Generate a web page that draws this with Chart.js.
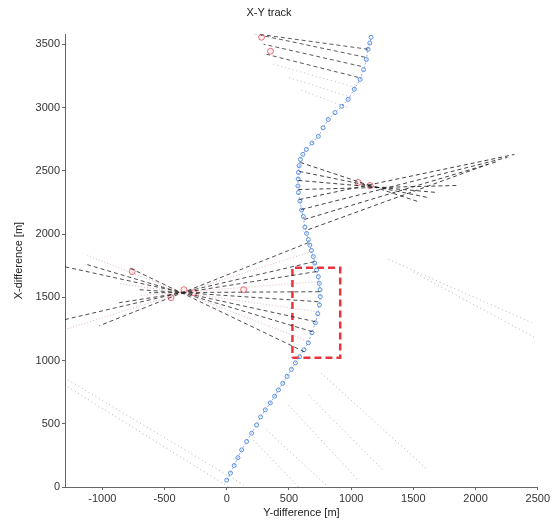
<!DOCTYPE html>
<html>
<head>
<meta charset="utf-8">
<script src="https://cdn.jsdelivr.net/npm/chart.js@4.4.1/dist/chart.umd.min.js"></script>
<style>
  html, body { margin: 0; padding: 0; background: #fff; }
  #wrap { width: 552px; height: 524px; }
</style>
</head>
<body>
<div id="wrap"><canvas id="xyChart" width="552" height="524"></canvas></div>
<script>
// ticks
const xTicks = [-1000, -500, 0, 500, 1000, 1500, 2000, 2500];
const yTicks = [0, 500, 1000, 1500, 2000, 2500, 3000, 3500];

// ship track (Y-difference, X-difference) in metres
const trackX = [0, 30, 60, 90, 120, 160, 200, 240, 272, 310, 350, 385, 416, 450, 485, 520, 552, 585, 620, 656, 685, 712, 732, 745, 752, 750, 744, 736, 722, 708, 696, 680, 668, 656, 642, 628, 616, 602, 588, 576, 572, 574, 576, 582, 592, 612, 640, 685, 736, 775, 816, 870, 925, 976, 1025, 1072, 1100, 1122, 1136, 1150, 1160];
const trackY = [55, 110, 170, 232, 293, 360, 425, 490, 554, 610, 665, 718, 768, 820, 875, 930, 982, 1030, 1085, 1140, 1220, 1299, 1370, 1440, 1505, 1560, 1610, 1663, 1715, 1770, 1822, 1870, 1912, 1956, 2005, 2055, 2138, 2190, 2260, 2328, 2380, 2435, 2487, 2540, 2590, 2630, 2669, 2720, 2772, 2840, 2906, 2960, 3010, 3065, 3145, 3223, 3300, 3380, 3461, 3510, 3556];

// bearing lines, left fan: start on track -> end
const leftStart = [[656, 1932], [680, 1861], [704, 1782], [720, 1703], [736, 1624], [744, 1544], [736, 1465], [728, 1386], [712, 1307], [688, 1228], [664, 1148], [624, 1069]];
const leftEnd = [[-1024, 1275], [-1304, 1243], [-1304, 1323], [-864, 1457], [-704, 1513], [-624, 1536], [-704, 1560], [-864, 1608], [-1304, 1742], [-1120, 1758], [-1120, 1830], [-784, 1734]];

// bearing lines, upper right fan
const rightStart = [[592, 2566], [584, 2495], [576, 2424], [576, 2352], [584, 2273], [600, 2194], [624, 2115], [656, 2035]];
const rightEnd = [[1536, 2257], [1616, 2289], [1696, 2328], [1856, 2384], [2312, 2629], [2256, 2606], [2176, 2574], [2096, 2550]];

// bearing lines, top fan
const topStart = [[1136, 3461], [1112, 3398], [1080, 3326], [1056, 3239], [1032, 3160], [1000, 3081], [968, 3002]];
const topEnd = [[136, 3596], [272, 3572], [296, 3501], [320, 3421], [376, 3342], [496, 3239], [576, 3144]];

// faint lines in the lower part
const faintStart = [[-1304, 863], [-1304, 808], [216, 372], [320, 451], [496, 649], [656, 729], [760, 900], [1300, 1800], [1500, 1700]];
const faintEnd = [[136, 16], [16, 0], [576, 0], [816, 0], [1056, 55], [1256, 135], [1600, 150], [2450, 1300], [2480, 1180]];

// target estimates (red ellipses)
const targetX = [-760, -344, -264, -448, 136, 1056, 1152, 280, 352];
const targetY = [1703, 1560, 1536, 1497, 1560, 2408, 2384, 3556, 3445];

// dashed red box
const boxX = [528, 912, 912, 528, 528];
const boxY = [1022, 1022, 1734, 1734, 1022];

function toPoints(xs, ys) {
    return xs.map((x, i) => ({ x: x, y: ys[i] }));
}

function segment(a, b, color, dash, width) {
    return {
        data: [{ x: a[0], y: a[1] }, { x: b[0], y: b[1] }],
        showLine: true,
        borderColor: color,
        borderWidth: width,
        borderDash: dash,
        pointRadius: 0,
        fill: false
    };
}

const datasets = [];

// faint lines first, so they sit underneath
faintStart.forEach((s, i) => {
    datasets.push(segment(s, faintEnd[i], 'rgba(90,90,90,0.45)', [1, 3], 1));
});

leftStart.forEach((s, i) => {
    const dark = i % 3 !== 1;
    datasets.push(segment(s, leftEnd[i], dark ? 'rgba(20,20,20,0.75)' : 'rgba(200,140,140,0.6)', dark ? [4, 3] : [1, 2], 1));
});

rightStart.forEach((s, i) => {
    datasets.push(segment(s, rightEnd[i], 'rgba(20,20,20,0.8)', [4, 3], 1));
});

topStart.forEach((s, i) => {
    const dark = i < 4;
    datasets.push(segment(s, topEnd[i], dark ? 'rgba(20,20,20,0.7)' : 'rgba(150,120,120,0.5)', dark ? [4, 3] : [1, 3], 1));
});

// track
datasets.push({
    data: toPoints(trackX, trackY),
    showLine: true,
    borderColor: 'rgba(90,142,224,0.7)',
    borderWidth: 1,
    borderDash: [2, 2],
    pointRadius: 2,
    pointBorderColor: '#5a8ee0',
    pointBackgroundColor: 'rgba(255,255,255,0)',
    pointBorderWidth: 1
});

// targets
datasets.push({
    data: toPoints(targetX, targetY),
    showLine: false,
    pointRadius: 3,
    pointStyle: 'circle',
    pointBorderColor: 'rgba(225,70,90,0.75)',
    pointBackgroundColor: 'rgba(240,160,170,0.2)',
    pointBorderWidth: 1
});

// box
datasets.push({
    data: toPoints(boxX, boxY),
    showLine: true,
    borderColor: '#e8343b',
    borderWidth: 2.5,
    borderDash: [7, 4],
    pointRadius: 0,
    fill: false
});

const tickFont = { family: 'Liberation Sans', size: 11 };

new Chart(document.getElementById('xyChart').getContext('2d'), {
    type: 'scatter',
    data: { datasets: datasets },
    options: {
        responsive: false,
        animation: false,
        layout: { padding: { right: 14, left: 0, top: 0, bottom: 0 } },
        plugins: {
            legend: { display: false },
            tooltip: { enabled: false },
            title: {
                display: true,
                text: 'X-Y track',
                color: '#222',
                font: { family: 'Liberation Sans', size: 11, weight: 'normal' },
                padding: { top: 6, bottom: 15 }
            }
        },
        scales: {
            x: {
                type: 'linear',
                min: -1300,
                max: 2500,
                afterBuildTicks: function (scale) {
                    scale.ticks = xTicks.map(v => ({ value: v }));
                },
                afterFit: function (scale) {
                    scale.height = 37;
                },
                grid: { display: true, drawOnChartArea: false, tickLength: 3, color: '#666' },
                border: { color: '#666', width: 1, dash: [2, 1] },
                ticks: { color: '#333', font: tickFont, maxRotation: 0, padding: 2, callback: v => String(v) },
                title: {
                    display: true,
                    text: 'Y-difference [m]',
                    color: '#222',
                    font: { family: 'Liberation Sans', size: 11 },
                    padding: { top: 0, bottom: 4 }
                }
            },
            y: {
                type: 'linear',
                min: 0,
                max: 3580,
                afterBuildTicks: function (scale) {
                    scale.ticks = yTicks.map(v => ({ value: v }));
                },
                afterFit: function (scale) {
                    scale.width = 65;
                },
                grid: { display: true, drawOnChartArea: false, tickLength: 3, color: '#666' },
                border: { color: '#666', width: 1, dash: [2, 1] },
                ticks: { color: '#333', font: tickFont, padding: 2, callback: v => String(v) },
                title: {
                    display: true,
                    text: 'X-difference [m]',
                    color: '#222',
                    font: { family: 'Liberation Sans', size: 11 },
                    padding: { top: 12, bottom: 0 }
                }
            }
        }
    }
});
</script>
</body>
</html>
